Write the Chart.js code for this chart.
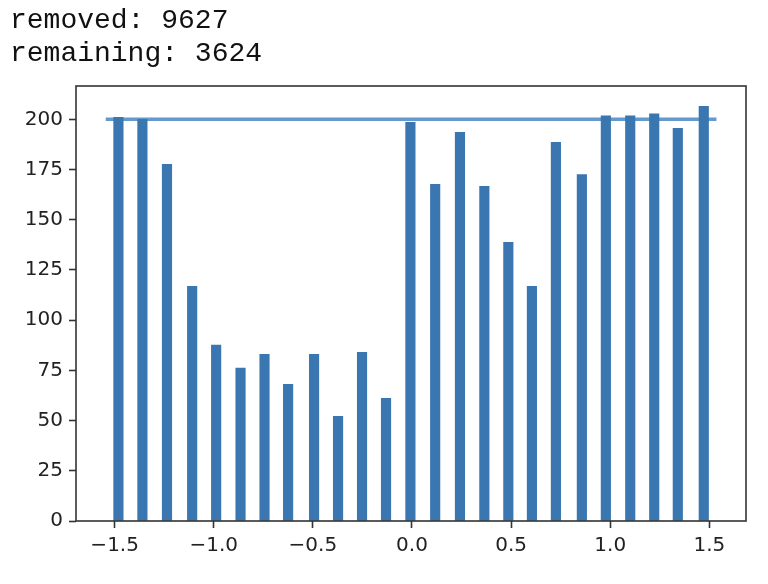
<!DOCTYPE html>
<html>
<head>
<meta charset="utf-8">
<script src="https://cdn.jsdelivr.net/npm/chart.js@4.4.0/dist/chart.umd.min.js"></script>
<style>
  body { margin: 0; background: #fff; }
  #wrap { position: relative; width: 768px; height: 584px; }
  #out { position: absolute; left: 10px; top: 4px; font-family: "Liberation Mono", monospace; font-size: 28px; line-height: 33px; color: #111; white-space: pre; }
  #chart { position: absolute; left: 0; top: 0; }
</style>
</head>
<body>
<div id="wrap">
  <canvas id="chart" width="768" height="584"></canvas>
  <div id="out">removed: 9627
remaining: 3624</div>
</div>
<script>
// bin centres and counts
var binCenters = [-1.481, -1.360, -1.236, -1.109, -0.988, -0.865, -0.744, -0.625, -0.494, -0.373, -0.252, -0.131, -0.008,
                  0.117, 0.242, 0.365, 0.486, 0.605, 0.726, 0.857, 0.978, 1.101, 1.222, 1.341, 1.472];
var counts = [201, 200, 177.6, 116.9, 87.6, 76.2, 83, 68.1, 83, 52.1, 84, 61.1, 198.5,
              167.7, 193.5, 166.7, 138.8, 116.9, 188.5, 172.5, 201.7, 201.7, 202.7, 195.5, 206.5];
var targetX = [-1.545, 1.536];
var targetY = [200, 200];
var xTicks = [-1.5, -1.0, -0.5, 0.0, 0.5, 1.0, 1.5];
var yTicks = [0, 25, 50, 75, 100, 125, 150, 175, 200];

var frame = {
    id: 'frame',
    afterDatasetsDraw: function (chart) {
        var a = chart.chartArea, c = chart.ctx;
        c.save();
        c.strokeStyle = '#333';
        c.lineWidth = 1.6;
        c.strokeRect(a.left, a.top, a.right - a.left, a.bottom - a.top);
        c.restore();
    }
};

var ctx = document.getElementById('chart').getContext('2d');
var hist = new Chart(ctx, {
    type: 'bar',
    data: {
        datasets: [{
            type: 'bar',
            data: binCenters.map(function (x, i) { return { x: x, y: counts[i] }; }),
            backgroundColor: '#3a77b0',
            barThickness: 9.5,
            order: 0
        }, {
            type: 'line',
            data: targetX.map(function (x, i) { return { x: x, y: targetY[i] }; }),
            borderColor: '#6399cc',
            borderWidth: 3.5,
            pointRadius: 0,
            order: 1
        }]
    },
    options: {
        responsive: false,
        animation: false,
        layout: { padding: { top: 86, right: 22, left: 0, bottom: 0 } },
        plugins: { legend: { display: false }, tooltip: { enabled: false } },
        scales: {
            x: {
                type: 'linear',
                offset: false,
                min: -1.695,
                max: 1.685,
                afterFit: function (s) { s.height = 63; },
                afterBuildTicks: function (s) { s.ticks = xTicks.map(function (v) { return { value: v }; }); },
                ticks: {
                    padding: 6,
                    color: '#222',
                    font: { family: 'DejaVu Sans', size: 20 },
                    maxRotation: 0,
                    callback: function (v) { return (v < 0 ? '\u2212' : '') + Math.abs(v).toFixed(1); }
                },
                grid: { offset: false, drawOnChartArea: false, tickLength: 7, tickColor: '#333', tickWidth: 1.6 },
                border: { display: false }
            },
            y: {
                min: 0,
                max: 216.6,
                afterFit: function (s) { s.width = 76; },
                afterBuildTicks: function (s) { s.ticks = yTicks.map(function (v) { return { value: v }; }); },
                ticks: {
                    padding: 6,
                    color: '#222',
                    font: { family: 'DejaVu Sans', size: 20 }
                },
                grid: { drawOnChartArea: false, tickLength: 7, tickColor: '#333', tickWidth: 1.6 },
                border: { display: false }
            }
        }
    },
    plugins: [frame]
});
</script>
</body>
</html>
